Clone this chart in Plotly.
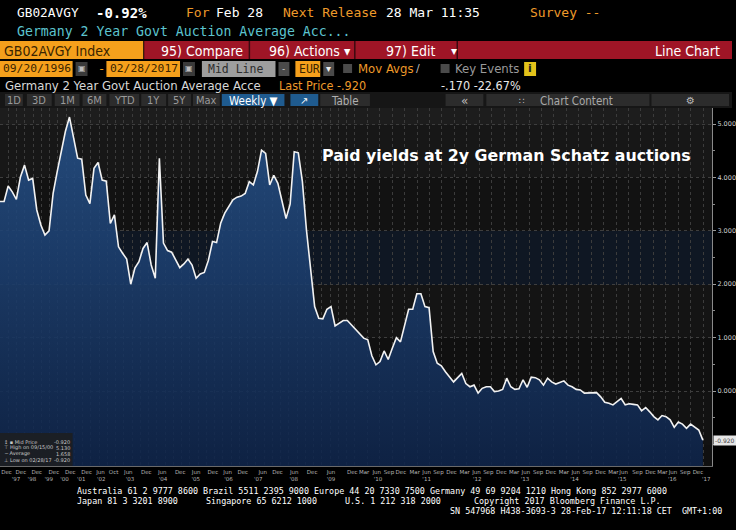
import plotly.graph_objects as go

W, H = 736, 530

# ---------------- data ----------------
yields_part1 = [
    3.55, 3.55, 3.84, 3.73, 3.59, 4.01, 4.23, 3.95, 3.98, 3.39,
    3.11, 2.92, 3.00, 3.70, 4.11, 4.51, 4.86, 5.13, 4.73, 4.36,
    4.34, 3.67, 3.51, 4.17, 4.28, 3.95, 3.93, 3.14, 3.30, 2.70,
    2.58, 2.47, 2.00, 2.30, 2.42, 2.67, 2.78, 2.36, 2.11, 4.36,
    2.77, 2.63, 2.60, 2.45, 2.31, 2.38, 2.47, 2.36, 2.11, 2.19,
    2.22, 2.45, 2.80, 2.78, 3.14, 3.33, 3.46, 3.58, 3.63, 3.65,
    3.70, 3.92, 3.86, 4.11, 4.51, 4.45, 3.86, 4.04, 3.89, 3.55,
    3.23, 3.50, 4.48, 4.46, 3.92, 3.01, 2.27,
]
yields_part2 = [
    1.58, 1.36, 1.35, 1.53, 1.58, 1.22, 1.27, 1.32, 1.32, 1.24,
    1.17, 1.08, 0.99, 0.96, 0.66, 0.49, 0.55, 0.75, 0.59, 0.80,
    1.00, 0.92, 1.20, 1.53, 1.53, 1.82, 1.82, 1.58, 1.56, 0.74,
    0.52, 0.47, 0.36, 0.27, 0.17, 0.25, 0.33, 0.14, 0.08, 0.11,
    -0.04, 0.05, 0.08, 0.08, -0.01, 0.00, 0.03, 0.24, 0.08, 0.03,
    0.04, 0.21, 0.07, 0.26, 0.25, 0.21, 0.11, 0.24, 0.17, 0.13,
    0.16, 0.19, 0.11, 0.08, 0.03, 0.02, -0.04, -0.04, -0.03, -0.03,
    -0.11, -0.21, -0.23, -0.26, -0.20, -0.14, -0.26, -0.24, -0.25, -0.26,
    -0.37, -0.31, -0.39, -0.48, -0.54, -0.46, -0.48, -0.54, -0.68, -0.58,
    -0.62, -0.70, -0.62, -0.68, -0.73, -0.92,
]
yields = yields_part1 + yields_part2
obs = list(range(len(yields)))          # auction number (Bloomberg plots by observation)

month_labels = ["Dec", "Dec", "Dec", "Dec", "Dec", "Dec", "Jun", "Oct", "Jun", "Dec",
                "Jun", "Dec", "Jun", "Dec", "Jun", "Dec", "Jun", "Dec", "Jun", "Dec",
                "Jun", "Dec", "Mar", "Jun", "Sep", "Dec", "Mar", "Jun", "Sep", "Dec",
                "Mar", "Jun", "Sep", "Dec", "Mar", "Jun", "Sep", "Dec", "Mar", "Jun",
                "Sep", "Dec", "Mar", "Jun", "Sep", "Dec", "Mar", "Jun", "Sep", "Dec"]
month_obs = [1.6, 5.1, 9.0, 13.2, 17.2, 21.2, 24.6, 27.8, 31.4, 35.8,
             39.7, 44.1, 48.0, 52.1, 55.7, 59.4, 64.3, 67.9, 72.0, 76.4,
             81.0, 86.2, 89.1, 92.2, 95.2, 98.1, 101.5, 104.4, 107.3, 110.5,
             113.7, 116.6, 119.5, 122.7, 125.8, 128.7, 131.7, 134.8, 138.0, 140.9,
             143.8, 147.0, 150.1, 152.6, 156.0, 159.2, 162.1, 164.7, 167.7, 170.8]
year_labels = ["'97", "'98", "'99", "'00", "'01", "'02", "'03", "'04", "'05", "'06",
               "'07", "'08", "'09", "'10", "'11", "'12", "'13", "'14", "'15", "'16", "'17"]
year_obs = [3.9, 7.8, 11.9, 15.8, 19.9, 24.8, 31.8, 39.9, 47.9, 55.9,
            63.2, 71.9, 81.0, 92.5, 104.4, 116.8, 128.5, 140.6, 152.3, 164.5, 172.8]
y_ticks = [0, 1, 2, 3, 4, 5]

# ---------------- geometry helpers (pixel -> paper) ----------------
def fx(px):
    return px / W

def fy(py):
    return 1 - py / H

PX_PER_OBS = 706.7 / (len(yields) - 1)
PLOT_L, PLOT_R, PLOT_T, PLOT_B = 0, 716, 108, 466
Y_TOP = (391 - PLOT_T) / 53.4
Y_BOT = (391 - PLOT_B) / 53.4
X_MAX = PLOT_R / PX_PER_OBS

fig = go.Figure()

# baseline (bottom of axis) so the area fills down to the floor
fig.add_trace(go.Scatter(x=obs, y=[Y_BOT] * len(obs), mode="lines",
                         line=dict(width=0), hoverinfo="skip", showlegend=False))
fig.add_trace(go.Scatter(
    x=obs, y=yields, mode="lines", fill="tonexty",
    line=dict(color="#f2f2f2", width=1.6),
    fillgradient=dict(type="vertical", start=Y_BOT, stop=5.2,
                      colorscale=[[0, "rgba(14,36,74,0.88)"], [1, "rgba(38,82,138,0.88)"]]),
    showlegend=False, name="Mid Price"))
# invisible trace on the year axis
fig.add_trace(go.Scatter(x=[0, X_MAX], y=[Y_BOT, Y_BOT], xaxis="x2", mode="lines",
                         line=dict(width=0), hoverinfo="skip", showlegend=False))

# minor vertical grid positions
minor_vals = []
p = 0.0
while p < 350:
    minor_vals.append(p / PX_PER_OBS)
    p += 8.3
while p < 707:
    minor_vals.append(p / PX_PER_OBS)
    p += 12.5

shapes = []
annotations = []

def box(x0, y0, x1, y1, color, line=None, layer="above"):
    shapes.append(dict(type="rect", xref="paper", yref="paper",
                       x0=fx(x0), x1=fx(x1), y0=fy(y1), y1=fy(y0),
                       fillcolor=color, line=dict(width=0) if line is None else line,
                       layer=layer))

def txt(x, y, s, color="#ffffff", size=12, family="DejaVu Sans Mono", anchor="left", bold=False):
    annotations.append(dict(xref="paper", yref="paper", x=fx(x), y=fy(y), text=s,
                            showarrow=False, xanchor=anchor, yanchor="middle",
                            font=dict(color=color, size=size, family=family,
                                      weight="bold" if bold else "normal")))

COND = "DejaVu Sans Condensed"

# ------------- background bands inside the plot -------------
band_rows = [(108, 125, "#1d1d1d"), (125, 177, "#171717"), (177, 231, "#121212"),
             (231, 285, "#0f1723"), (285, 338, "#141414"), (338, 391, "#101010"),
             (391, 445, "#121212"), (445, 466, "#101010")]
for t, b, c in band_rows:
    box(0, t, 716, b, c, layer="below")

# ------------- header -------------
ORANGE = "#f5a01c"
TXT_OR = "#ee9a2a"
RED = "#9f1526"
txt(15, 13, "GB02AVGY", "#ffffff", 12.8)
txt(95, 13, "-0.92%", "#ffffff", 14, bold=True)
txt(185, 13, "For", TXT_OR, 13)
txt(215, 13, "Feb 28", "#ffffff", 13)
txt(283, 13, "Next Release", TXT_OR, 13)
txt(386, 13, "28 Mar 11:35", "#ffffff", 13)
txt(531, 13, "Survey --", TXT_OR, 13)
txt(15, 32, "Germany 2 Year Govt Auction Average Acc...", "#5cc4cf", 13.2)

box(0, 41, 144, 59, ORANGE)
txt(2, 50.5, "GB02AVGY Index", "#3a2400", 14, COND)
box(145, 41, 736, 59, RED)
for sx in (250, 356, 459):
    box(sx, 41, sx + 1.5, 59, "#3a0a10")
txt(160, 50.5, "95) Compare", "#ffffff", 14, COND)
txt(268, 50.5, "96) Actions \u25be", "#ffffff", 14, COND)
txt(386, 50.5, "97) Edit", "#ffffff", 14, COND)
txt(451, 50.5, "\u25be", "#ffffff", 12, "DejaVu Sans")
txt(726, 50.5, "Line Chart", "#ffffff", 14, COND, anchor="right")

box(0, 61, 73, 77, ORANGE)
txt(1.5, 69, "09/20/1996", "#3a2400", 11.3)
box(76, 62, 88, 76, "#3a3a3a")
txt(82, 69, "\u25a3", "#bdbdbd", 8, "DejaVu Sans", anchor="center")
txt(97, 69, "-", ORANGE, 12)
box(107, 61, 181, 77, ORANGE)
txt(108.5, 69, "02/28/2017", "#3a2400", 11.3)
box(184, 62, 196, 76, "#3a3a3a")
txt(190, 69, "\u25a3", "#bdbdbd", 8, "DejaVu Sans", anchor="center")
box(203, 61, 277, 77, "#9e9e9e")
txt(207, 69, "Mid Line", "#2d2d2d", 11.5)
box(280, 62, 291, 76, "#4a4a4a")
txt(285.5, 69, "-", "#cccccc", 9, "DejaVu Sans", anchor="center")
box(297, 61, 322, 77, ORANGE)
txt(298.5, 69, "EUR", "#3a2400", 11.5)
box(325, 62, 336, 76, "#4a4a4a")
txt(330.5, 69, "\u25be", "#eeeeee", 10, "DejaVu Sans", anchor="center")
box(345, 64, 354, 73, "#4a4a4a")
txt(358, 69, "Mov Avgs", TXT_OR, 13, COND)
txt(420, 69, "\u2215", "#bbbbbb", 11, "DejaVu Sans", anchor="center")
box(443, 64, 452, 73, "#4a4a4a")
txt(455, 69, "Key Events", "#9a9a9a", 13, COND)
box(527, 62, 539, 76, "#e3c31a")
txt(533, 69, "i", "#222222", 11, "DejaVu Sans", anchor="center", bold=True)

txt(3, 86, "Germany 2 Year Govt Auction Average Acce", "#d8d8d8", 13, COND)
txt(279, 86, "Last Price -.920", TXT_OR, 12.5, COND)
txt(441, 86, "-.170 -22.67%", "#e8e8e8", 12.5, COND)

box(0, 92, 736, 108, "#161616")
btns = [(5, 23, "1D"), (27, 52, "3D"), (55, 80, "1M"), (83, 107, "6M"), (110, 140, "YTD"),
        (142, 167, "1Y"), (169, 192, "5Y"), (194, 221, "Max")]
for a, b, s in btns:
    box(a, 94, b, 106, "#2c2c2c")
    txt((a + b) / 2, 100.5, s, "#9a9a9a", 11, COND, anchor="center")
box(223, 94, 286, 106, "#1f5b8f")
txt(254.5, 100.5, "Weekly \u25bc", "#ffffff", 11.5, COND, anchor="center")
box(292, 94, 320, 106, "#1f5b8f")
txt(306, 100.5, "\u2197", "#ffffff", 10, "DejaVu Sans", anchor="center")
box(322, 94, 372, 106, "#2c2c2c")
txt(347, 100.5, "Table", "#b0b0b0", 11.5, COND, anchor="center")
box(448, 94, 486, 106, "#2c2c2c")
txt(467, 100.5, "\u00ab", "#bbbbbb", 12, "DejaVu Sans", anchor="center")
box(489, 94, 653, 106, "#2c2c2c")
txt(525, 100.5, "\u2237", "#bbbbbb", 9, "DejaVu Sans", anchor="center")
txt(580, 100.5, "Chart Content", "#a8a8a8", 11.5, COND, anchor="center")
box(655, 94, 733, 106, "#2c2c2c")
txt(694, 100.5, "\u2699", "#bbbbbb", 10, "DejaVu Sans", anchor="center")

# ------------- chart title -------------
txt(509, 155, "Paid yields at 2y German Schatz auctions", "#ffffff", 15.8, "DejaVu Sans", anchor="center", bold=True)

# ------------- legend box -------------
box(0, 433, 73, 466, "rgba(28,30,34,0.92)")
legend_rows = [("\u2195 \u25aa Mid Price", "-0.920"), ("\u22a4 High on 09/15/00", "5.130"),
               ("\u2500 Average", "1.658"), ("\u22a5 Low on 02/28/17", "-0.920")]
for i, (lab, val) in enumerate(legend_rows):
    yy = 441.5 + i * 6.2
    txt(2, yy, lab, "#c8c8c8", 5, "DejaVu Sans")
    txt(72, yy, val, "#c8c8c8", 5, "DejaVu Sans", anchor="right")

# ------------- last price tag on y axis -------------
annotations.append(dict(xref="paper", yref="y", x=fx(717), y=yields[-1], text="-0.920",
                        showarrow=False, xanchor="left", yanchor="middle",
                        bgcolor="#e6e6e6", borderpad=1,
                        font=dict(color="#444444", size=6, family="DejaVu Sans")))

# ------------- footer -------------
F = 8.4
txt(75, 491, "Australia 61 2 9777 8600 Brazil 5511 2395 9000 Europe 44 20 7330 7500 Germany 49 69 9204 1210 Hong Kong 852 2977 6000", "#ffffff", F)
txt(75, 501, "Japan 81 3 3201 8900", "#ffffff", F)
txt(205, 501, "Singapore 65 6212 1000", "#ffffff", F)
txt(345, 501, "U.S. 1 212 318 2000", "#ffffff", F)
txt(475, 501, "Copyright 2017 Bloomberg Finance L.P.", "#ffffff", F)
txt(728, 511, "SN 547968 H438-3693-3 28-Feb-17 12:11:18 CET  GMT+1:00", "#ffffff", F, anchor="right")

fig.update_layout(
    width=W, height=H, margin=dict(l=0, r=0, t=0, b=0),
    paper_bgcolor="#000000", plot_bgcolor="#121212",
    showlegend=False,
    xaxis=dict(domain=[fx(PLOT_L), fx(PLOT_R)], range=[0, X_MAX], anchor="y",
               tickmode="array", tickvals=month_obs, ticktext=month_labels, tickangle=0,
               tickfont=dict(size=5.5, color="#b4b4b4", family="DejaVu Sans"),
               ticks="", showgrid=False, zeroline=False,
               showline=True, linecolor="#6a6a6a", linewidth=1,
               minor=dict(tickmode="array", tickvals=minor_vals, showgrid=True,
                          gridcolor="#3c3c3c", griddash="dot", gridwidth=1)),
    xaxis2=dict(domain=[fx(PLOT_L), fx(PLOT_R)], range=[0, X_MAX], overlaying="x",
                anchor="y", side="bottom", tickmode="array", tickvals=year_obs,
                ticktext=year_labels, ticks="", ticklabelstandoff=8, tickangle=0,
                tickfont=dict(size=5.5, color="#b4b4b4", family="DejaVu Sans"),
                showgrid=False, zeroline=False, showline=False),
    yaxis=dict(domain=[fy(PLOT_B), fy(PLOT_T)], range=[Y_BOT, Y_TOP], side="right",
               tickmode="array", tickvals=y_ticks, tickformat=".3f",
               tickfont=dict(size=6.5, color="#cfcfcf", family="DejaVu Sans"),
               ticks="outside", ticklen=3, tickcolor="#9a9a9a",
               showgrid=True, gridcolor="#3e3e3e", griddash="dot", gridwidth=1,
               zeroline=False, showline=True, linecolor="#8a8a8a", linewidth=1,
               minor=dict(dtick=0.5, ticks="outside", ticklen=2, tickcolor="#8a8a8a")),
    shapes=shapes, annotations=annotations,
)

fig.write_html("out.html")
